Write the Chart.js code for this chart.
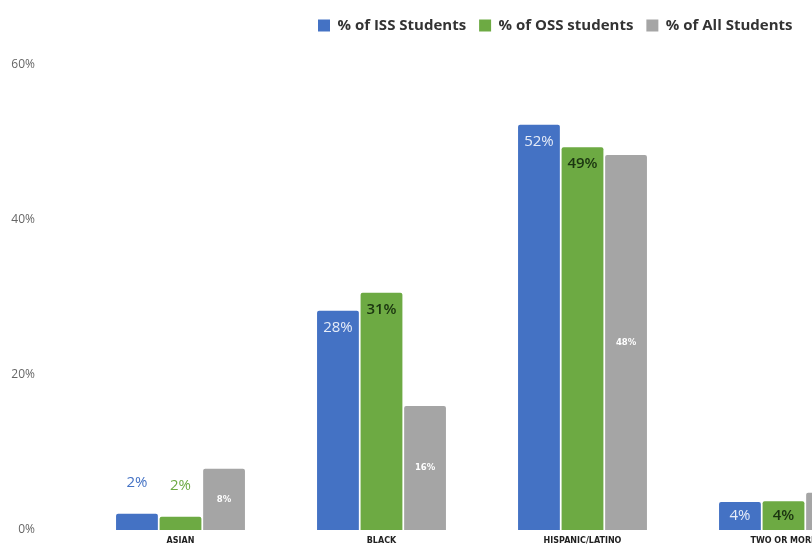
<!DOCTYPE html>
<html>
<head>
<meta charset="utf-8">
<script src="https://cdn.jsdelivr.net/npm/chart.js@4.4.0/dist/chart.umd.min.js"></script>
<style>
  html, body { margin: 0; padding: 0; background: #fff; overflow: hidden; }
  canvas { display: block; }
</style>
</head>
<body>
<canvas id="barChart" width="884" height="544"></canvas>
<script>
const categorias = ['ASIAN', 'BLACK', 'HISPANIC/LATINO', 'TWO OR MORE'];
const issAlunos = [2, 28, 52, 4];
const ossAlunos = [2, 31, 49, 4];
const todosAlunos = [8, 16, 48, 5];
const issAltura = [2.1, 28.3, 52.3, 3.6];
const ossAltura = [1.7, 30.6, 49.4, 3.7];
const todosAltura = [7.9, 16.0, 48.4, 4.8];
const ticksY = [0, 20, 40, 60];

// rótulos de dados (sem plugin externo)
const rotulosPlugin = {
    id: 'rotulos',
    afterDatasetsDraw(chart) {
        const ctx = chart.ctx;
        chart.data.datasets.forEach((ds, i) => {
            const meta = chart.getDatasetMeta(i);
            meta.data.forEach((bar, j) => {
                const texto = ds.rotulos[j] + '%';
                const altura = bar.base - bar.y;
                ctx.save();
                ctx.textAlign = 'center';
                ctx.textBaseline = 'middle';
                if (i === 2) {
                    ctx.font = 'bold 8.5px "DejaVu Sans"';
                    ctx.fillStyle = '#ffffff';
                    ctx.fillText(texto, bar.x, (bar.y + bar.base) / 2);
                } else if (altura < 22) {
                    ctx.font = '15px "Open Sans"';
                    ctx.fillStyle = ds.backgroundColor;
                    ctx.fillText(texto, bar.x, bar.y - 31);
                } else {
                    ctx.font = (i === 1 ? '600 ' : '') + '15px "Open Sans"';
                    ctx.fillStyle = i === 0 ? '#e6ecf8' : '#1b3510';
                    ctx.fillText(texto, bar.x, bar.y + Math.min(17, altura / 2));
                }
                ctx.restore();
            });
        });
    }
};

// posiciona a legenda como no original
const legendaPlugin = {
    id: 'legendaPos',
    afterLayout(chart) {
        const lg = chart.legend;
        const dx = 305 - lg.left;
        const dy = 5 - lg.top;
        lg.left += dx;
        lg.right += dx;
        lg.top += dy;
        lg.bottom += dy;
    }
};

const ctx = document.getElementById('barChart').getContext('2d');
new Chart(ctx, {
    type: 'bar',
    data: {
        labels: categorias,
        datasets: [{
            label: '% of ISS Students',
            data: issAltura,
            rotulos: issAlunos,
            backgroundColor: '#4472C4'
        }, {
            label: '% of OSS students',
            data: ossAltura,
            rotulos: ossAlunos,
            backgroundColor: '#6DAA43'
        }, {
            label: '% of All Students',
            data: todosAltura,
            rotulos: todosAlunos,
            backgroundColor: '#A5A5A5'
        }]
    },
    options: {
        responsive: false,
        animation: false,
        layout: { padding: { top: 27, left: 0, right: 0, bottom: 0 } },
        datasets: {
            bar: {
                categoryPercentage: 0.65,
                barPercentage: 0.96,
                borderRadius: 2,
                borderWidth: 0
            }
        },
        plugins: {
            legend: {
                position: 'top',
                align: 'start',
                labels: {
                    boxWidth: 12,
                    boxHeight: 12,
                    padding: 13,
                    color: '#333',
                    font: { family: '"Open Sans"', size: 15, weight: 'bold' }
                }
            },
            tooltip: { enabled: false }
        },
        scales: {
            x: {
                grid: { display: false, drawTicks: false },
                border: { display: false },
                ticks: {
                    padding: 6,
                    color: '#222',
                    font: { family: '"DejaVu Sans"', size: 8, weight: 'bold' }
                },
                afterFit(scale) { scale.height = 14; }
            },
            y: {
                min: 0,
                max: 60,
                grid: { display: false, drawTicks: false },
                border: { display: false },
                afterBuildTicks(scale) {
                    scale.ticks = ticksY.map(v => ({ value: v }));
                },
                ticks: {
                    padding: 45,
                    color: '#666',
                    font: { family: '"Open Sans"', size: 12 },
                    callback: (v) => v + '%'
                },
                afterFit(scale) {
                    scale.width = 80;
                    scale.paddingTop = 6;
                    scale.paddingBottom = 6;
                }
            }
        }
    },
    plugins: [rotulosPlugin, legendaPlugin]
});
</script>
</body>
</html>
